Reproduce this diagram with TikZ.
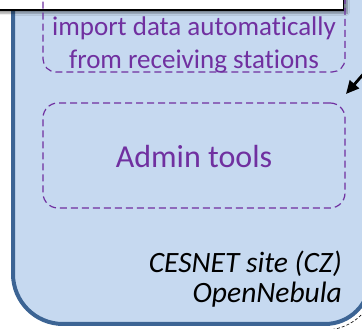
\documentclass[tikz,border=0pt]{standalone}
\usepackage{fontspec}
\setmainfont[Ligatures=NoCommon]{Carlito}
\usetikzlibrary{shadows.blur,arrows.meta}
\definecolor{panelfill}{HTML}{C6D9F0}
\definecolor{paneledge}{HTML}{3C6494}
\definecolor{toolpurple}{HTML}{7030A0}
\begin{document}
\begin{tikzpicture}[x=1pt,y=1pt,
  toolbox/.style={draw=toolpurple,line width=1.2pt,dash pattern=on 7pt off 4pt,rounded corners=13pt},
  tooltext/.style={text=toolpurple,inner sep=0pt}]
\useasboundingbox (0,0) rectangle (362,329);

\filldraw[fill=panelfill,draw=paneledge,line width=4pt]
  (13,360) -- (13,55) arc[start angle=180,end angle=270,radius=50]
  -- (325,5) arc[start angle=270,end angle=360,radius=45] -- (370,360) -- cycle;
\draw[black,line width=0.6pt,dash pattern=on 3pt off 2pt]
  (325,50) ++(278:51) arc[start angle=278,end angle=335,radius=51];

\node[draw=black,fill=white,line width=1.5pt,minimum width=360pt,minimum height=30pt,
  blur shadow={shadow xshift=4pt,shadow yshift=-3pt,shadow blur steps=6},
  anchor=south east] (topbox) at (344,318) {};

\node[toolbox,minimum width=302pt,minimum height=95pt] (importbox) at (194,304.5) {};
\node[tooltext,align=center,font=\fontsize{27}{33}\selectfont] (importtext) at (194,284) {import data automatically\\from receiving stations};

\node[toolbox,minimum width=302pt,minimum height=105pt,rounded corners=15pt] (adminbox) at (194,173.5) {};
\node[tooltext,font=\fontsize{32}{38}\selectfont] (admintext) at (194,172) {Admin tools};

\node[inner sep=0pt,align=right,anchor=east,font=\fontsize{29.5}{30}\selectfont\itshape] (site) at (342,50) {CESNET site (CZ)\\OpenNebula};

\coordinate (arrowfrom) at (366,258);
\coordinate (arrowto) at (346,235);
\draw[-{Triangle[length=13pt,width=12pt]},line width=2.8pt] (arrowfrom) -- (arrowto);
\end{tikzpicture}
\end{document}
